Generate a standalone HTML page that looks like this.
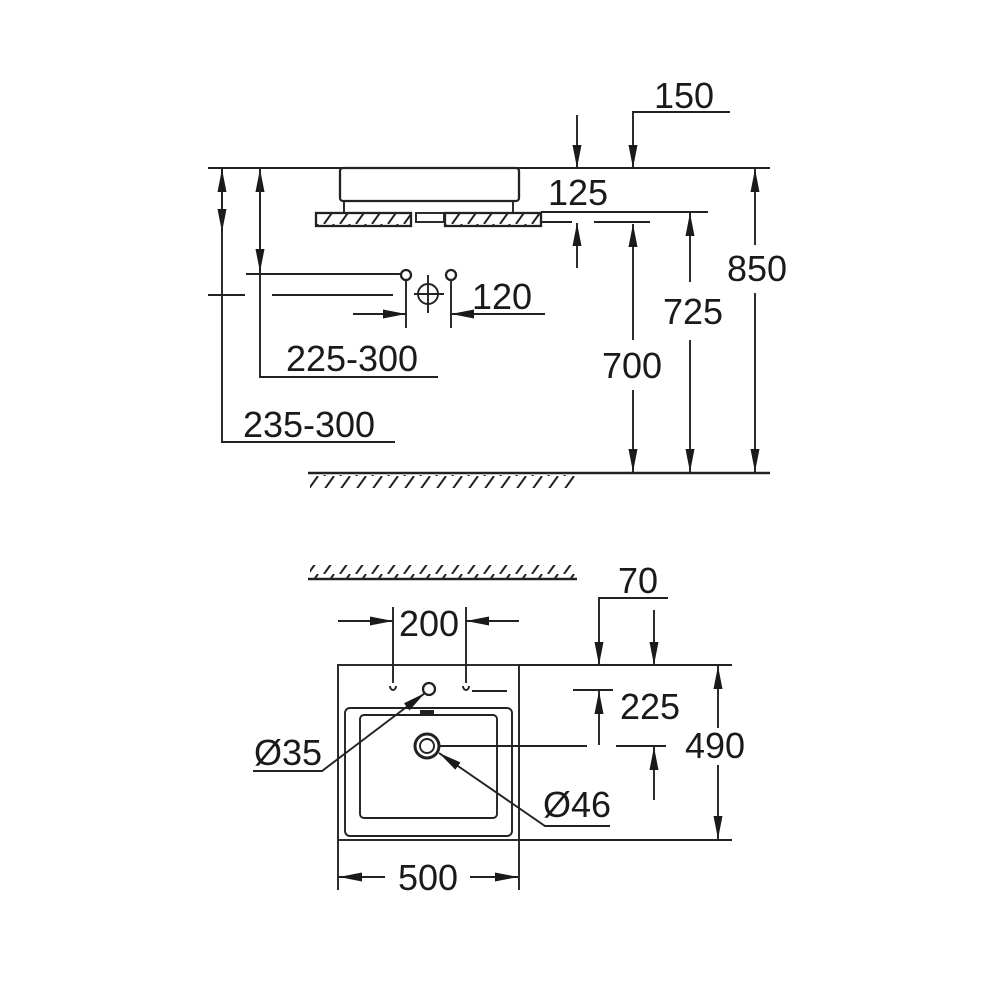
<!DOCTYPE html>
<html><head><meta charset="utf-8"><style>
html,body{margin:0;padding:0;background:#fff}
svg{display:block}
text{font-family:"Liberation Sans",sans-serif;font-size:36px;fill:#1a1a1a}
</style></head><body>
<svg width="1000" height="1000" viewBox="0 0 1000 1000" xmlns="http://www.w3.org/2000/svg">
<defs>
<marker id="a" markerUnits="userSpaceOnUse" markerWidth="26" markerHeight="10" refX="23" refY="4.5" orient="auto">
<path d="M0,0 L23,4.5 L0,9 z" fill="#1a1a1a"/></marker>
<pattern id="h" patternUnits="userSpaceOnUse" width="16" height="14">
<line x1="4" y1="14" x2="14" y2="0" stroke="#222" stroke-width="2"/></pattern>
</defs>
<g stroke="#222" stroke-width="1.9" fill="none">
<line x1="208" y1="168" x2="770" y2="168"/>
<rect x="340" y="168" width="179" height="33" rx="3" stroke-width="2.3"/>
<line x1="344" y1="201" x2="344" y2="213"/><line x1="513" y1="201" x2="513" y2="213"/>
<rect x="316" y="213" width="95" height="13" fill="url(#h)" stroke-width="2.3"/>
<rect x="445" y="213" width="96" height="13" fill="url(#h)" stroke-width="2.3"/>
<rect x="416" y="213" width="28" height="9"/>
<line x1="541" y1="212" x2="708" y2="212"/>
<line x1="541" y1="222" x2="572" y2="222"/><line x1="594" y1="222" x2="650" y2="222"/>
<line x1="577" y1="115" x2="577" y2="168" marker-end="url(#a)"/>
<line x1="577" y1="268" x2="577" y2="223" marker-end="url(#a)"/>
<polyline points="730,112 633,112 633,168" marker-end="url(#a)"/>
<line x1="633" y1="340" x2="633" y2="224" marker-end="url(#a)"/>
<line x1="633" y1="390" x2="633" y2="472" marker-end="url(#a)"/>
<line x1="690" y1="282" x2="690" y2="213" marker-end="url(#a)"/>
<line x1="690" y1="340" x2="690" y2="472" marker-end="url(#a)"/>
<line x1="755" y1="245" x2="755" y2="169" marker-end="url(#a)"/>
<line x1="755" y1="293" x2="755" y2="472" marker-end="url(#a)"/>
<line x1="222" y1="169" x2="222" y2="232" marker-end="url(#a)"/>
<line x1="222" y1="295" x2="222" y2="169" marker-end="url(#a)"/>
<polyline points="222,295 222,442 395,442"/>
<line x1="208" y1="295" x2="245" y2="295"/><line x1="272" y1="295" x2="393" y2="295"/>
<line x1="260" y1="272" x2="260" y2="169" marker-end="url(#a)"/>
<line x1="260" y1="169" x2="260" y2="272" marker-end="url(#a)"/>
<polyline points="260,272 260,377 438,377"/>
<line x1="246" y1="274" x2="402" y2="274"/>
<circle cx="406" cy="275" r="5" stroke-width="2.3"/><circle cx="451" cy="275" r="5" stroke-width="2.3"/>
<circle cx="428" cy="294" r="10"/>
<line x1="428" y1="275" x2="428" y2="313"/><line x1="414" y1="294" x2="444" y2="294"/>
<line x1="406" y1="280" x2="406" y2="328"/><line x1="451" y1="280" x2="451" y2="328"/>
<line x1="353" y1="314" x2="406" y2="314" marker-end="url(#a)"/>
<line x1="545" y1="314" x2="451" y2="314" marker-end="url(#a)"/>
<line x1="308" y1="473" x2="770" y2="473" stroke-width="2.4"/>
<rect x="310" y="475" width="266" height="13" fill="url(#h)" stroke="none"/>
<line x1="308" y1="579" x2="577" y2="579" stroke-width="2.4"/>
<rect x="310" y="565" width="266" height="13" fill="url(#h)" stroke="none"/>
<rect x="338" y="665" width="181" height="175"/>
<rect x="345" y="708" width="167" height="128" rx="5"/>
<rect x="360" y="715" width="137" height="103" rx="4"/>
<line x1="420" y1="712" x2="434" y2="712" stroke-width="4"/>
<circle cx="427" cy="746" r="12" stroke-width="3"/><circle cx="427" cy="746" r="7"/>
<circle cx="429" cy="689" r="6" stroke-width="2.3"/>
<path d="M390,686 a3,4 0 1 0 6,0"/><path d="M463,686 a3,4 0 1 0 6,0"/>
<line x1="393" y1="607" x2="393" y2="683"/><line x1="466" y1="607" x2="466" y2="683"/>
<line x1="472" y1="691" x2="507" y2="691"/>
<line x1="338" y1="621" x2="393" y2="621" marker-end="url(#a)"/>
<line x1="519" y1="621" x2="466" y2="621" marker-end="url(#a)"/>
<polyline points="668,598 599,598 599,665" marker-end="url(#a)"/>
<line x1="654" y1="610" x2="654" y2="665" marker-end="url(#a)"/>
<line x1="519" y1="665" x2="732" y2="665"/><line x1="519" y1="840" x2="732" y2="840"/>
<line x1="718" y1="728" x2="718" y2="666" marker-end="url(#a)"/>
<line x1="718" y1="765" x2="718" y2="839" marker-end="url(#a)"/>
<line x1="573" y1="690" x2="613" y2="690"/>
<line x1="599" y1="745" x2="599" y2="691" marker-end="url(#a)"/>
<line x1="440" y1="746" x2="587" y2="746"/><line x1="616" y1="746" x2="666" y2="746"/>
<line x1="654" y1="800" x2="654" y2="747" marker-end="url(#a)"/>
<polyline points="253,771 322,771 425,693" marker-end="url(#a)"/>
<polyline points="610,826 545,826 439,753" marker-end="url(#a)"/>
<line x1="338" y1="840" x2="338" y2="890"/><line x1="519" y1="840" x2="519" y2="890"/>
<line x1="385" y1="877" x2="339" y2="877" marker-end="url(#a)"/>
<line x1="470" y1="877" x2="518" y2="877" marker-end="url(#a)"/>
</g>
<text x="684" y="108" text-anchor="middle">150</text>
<text x="578" y="205" text-anchor="middle">125</text>
<text x="757" y="281" text-anchor="middle">850</text>
<text x="693" y="324" text-anchor="middle">725</text>
<text x="632" y="378" text-anchor="middle">700</text>
<text x="502" y="309" text-anchor="middle">120</text>
<text x="352" y="371" text-anchor="middle">225-300</text>
<text x="309" y="437" text-anchor="middle">235-300</text>
<text x="638" y="593" text-anchor="middle">70</text>
<text x="429" y="636" text-anchor="middle">200</text>
<text x="650" y="719" text-anchor="middle">225</text>
<text x="715" y="758" text-anchor="middle">490</text>
<text x="288" y="765" text-anchor="middle">Ø35</text>
<text x="577" y="817" text-anchor="middle">Ø46</text>
<text x="428" y="890" text-anchor="middle">500</text>
</svg>
</body></html>
